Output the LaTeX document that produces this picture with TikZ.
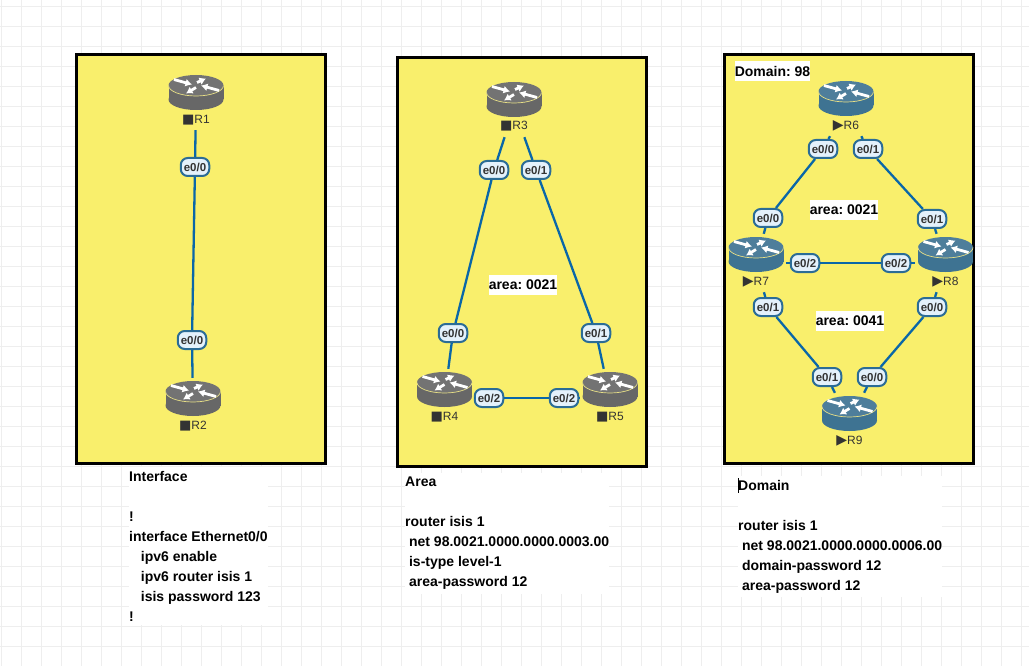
\documentclass[tikz,border=0pt]{standalone}
\usepackage{fontspec}
\setmainfont{Liberation Sans}
\newfontfamily\symfont{DejaVu Sans}
\usepackage{xcolor}
\usetikzlibrary{arrows.meta}
\frenchspacing
\definecolor{panelyellow}{HTML}{F9EF6C}
\definecolor{gridgray}{HTML}{EEEEEE}
\definecolor{linkblue}{HTML}{0A67A8}
\definecolor{portedge}{HTML}{2B6C96}
\definecolor{portfill}{HTML}{E4F1FB}
\definecolor{routergray}{HTML}{676767}
\definecolor{routerblue}{HTML}{3E7392}
\definecolor{rimyellow}{HTML}{E6DE86}
\newcommand\sqmark{{\symfont\fontsize{13}{12}\selectfont ■}}
\newcommand\trimark{{\symfont\fontsize{14}{12}\selectfont ▶}}
\tikzset{
  panel/.style={draw=black,line width=2.6pt,fill=panelyellow,inner sep=0pt,minimum width=#1,minimum height=409pt},
  panel/.default=250pt,
  gridline/.style={gridgray,line width=1pt},
  router/.style={rectangle,inner sep=0pt,minimum width=60pt,minimum height=58pt},
  routerlab/.style={inner sep=0pt,text=black!80,font=\fontsize{12}{14}\selectfont},
  port/.style={draw=portedge,line width=2pt,fill=portfill,rounded corners=7pt,inner sep=0pt,
    minimum width=28.5pt,minimum height=18pt,text=black!80,font=\bfseries\fontsize{11.5}{13}\selectfont},
  link/.style={linkblue,line width=2.3pt},
  tag/.style={fill=white,inner xsep=0pt,inner ysep=0pt,minimum height=20pt,font=\bfseries\fontsize{14}{20}\selectfont},
  config/.style={fill=white,anchor=north west,align=left,inner xsep=0pt,inner ysep=4pt,font=\bfseries\fontsize{14}{20}\selectfont},
  routerarrow/.style={white,line width=2.8pt,-{Latex[length=6.5pt,width=8pt]}},
  pics/routerpic/.style={code={
    \fill[#1] (0,14) ellipse [x radius=27.5pt,y radius=10.5pt];
    \fill[#1] (-27.5,0) rectangle (27.5,14);
    \fill[#1!92!white] (0,0) ellipse [x radius=27.5pt,y radius=10.5pt];
    \draw[rimyellow,line width=0.7pt] (-27.5,0) arc [start angle=180,end angle=360,x radius=27.5pt,y radius=10.5pt];
    \draw[routerarrow] (-22,-6) -- (-4,-1);
    \draw[routerarrow] (1,-3) -- (10,-7);
    \draw[routerarrow] (23,5) -- (5,0);
    \draw[routerarrow] (0,2) -- (-10,8);
  }}
}
\begin{document}
\begin{tikzpicture}[x=1pt,y=-1pt]
\useasboundingbox (0,0) rectangle (1029,666);
\fill[white] (0,0) rectangle (1029,666);
% grid
\foreach \gx in {1.7,21.7,...,1030} \draw[gridline] (\gx,0) -- (\gx,666);
\foreach \gy in {6.7,26.7,...,666} \draw[gridline] (0,\gy) -- (1029,\gy);
% panels
\node[panel=249pt] (interfacepanel) at (201.25,259.25) {};
\node[panel=249pt] (areapanel) at (522,262) {};
\node[panel=249pt] (domainpanel) at (849.25,259) {};
% routers
\foreach \name/\xx/\yy/\ly/\col/\sym in {R1/196/75/120.5/routergray/\sqmark,R2/193/381/426/routergray/\sqmark,
    R3/514/82/126/routergray/\sqmark,R4/444.5/372/417/routergray/\sqmark,R5/610/372/417/routergray/\sqmark,
    R6/846/81/126/routerblue/\trimark,R7/756/237/282/routerblue/\trimark,R8/945.5/237/282/routerblue/\trimark,R9/849.5/396/441/routerblue/\trimark}{
  \node[router] (\name) at (\xx,\yy+26) {};
  \pic at (\xx,\yy+10.5) {routerpic=\col};
  \node[routerlab] (\name lab) at (\xx,\ly) {\sym\name};
}
% ports
\node[port] (R1p0) at (195,167) {e0/0};
\node[port] (R2p0) at (192,340) {e0/0};
\node[port] (R3p0) at (494,170) {e0/0};
\node[port] (R3p1) at (536,170) {e0/1};
\node[port] (R4p0) at (453,333) {e0/0};
\node[port] (R5p1) at (596,333) {e0/1};
\node[port] (R4p2) at (489,398) {e0/2};
\node[port] (R5p2) at (564,398) {e0/2};
\node[port] (R6p0) at (823,149) {e0/0};
\node[port] (R6p1) at (868,149) {e0/1};
\node[port] (R7p0) at (768,218) {e0/0};
\node[port] (R8p1) at (932,219) {e0/1};
\node[port] (R7p2) at (805,263) {e0/2};
\node[port] (R8p2) at (896,263) {e0/2};
\node[port] (R7p1) at (768,307) {e0/1};
\node[port] (R8p0) at (932,307) {e0/0};
\node[port] (R9p1) at (827,377) {e0/1};
\node[port] (R9p0) at (872,377) {e0/0};
% links
\foreach \from/\to in {R1/R1p0,R1p0/R2p0,R2p0/R2,R3/R3p0,R3p0/R4p0,R4p0/R4,R3/R3p1,R3p1/R5p1,R5p1/R5,
    R4/R4p2,R4p2/R5p2,R5p2/R5,R6/R6p0,R6p0/R7p0,R7p0/R7,R6/R6p1,R6p1/R8p1,R8p1/R8,R7/R7p2,R7p2/R8p2,R8p2/R8,
    R7/R7p1,R7p1/R9p1,R9p1/R9,R8/R8p0,R8p0/R9p0,R9p0/R9}
  \draw[link] (\from) -- (\to);
% tags
\node[tag] (domaintag) at (772.5,71.5) {Domain: 98};
\node[tag] (areatag) at (523,285) {area: 0021};
\node[tag] (areatagb) at (844,210) {area: 0021};
\node[tag] (areatagc) at (850,321) {area: 0041};
% config text
\node[config] (interfacetext) at (129,467) {Interface\\~\\!\\interface Ethernet0/0\\
  \hspace*{11.7pt}ipv6 enable\\\hspace*{11.7pt}ipv6 router isis 1\\\hspace*{11.7pt}isis password 123\\!};
\node[config] (areatext) at (405,473) {Area\\~\\router isis 1\\
  \hspace*{3.9pt}net 98.0021.0000.0000.0003.00\\\hspace*{3.9pt}is-type level-1\\\hspace*{3.9pt}area-password 12};
\node[config] (domaintext) at (738,476) {Domain\\~\\router isis 1\\
  \hspace*{3.9pt}net 98.0021.0000.0000.0006.00\\\hspace*{3.9pt}domain-password 12\\\hspace*{3.9pt}area-password 12};
\draw[black,line width=0.8pt] (738.5,478) -- (738.5,493);
\end{tikzpicture}
\end{document}
